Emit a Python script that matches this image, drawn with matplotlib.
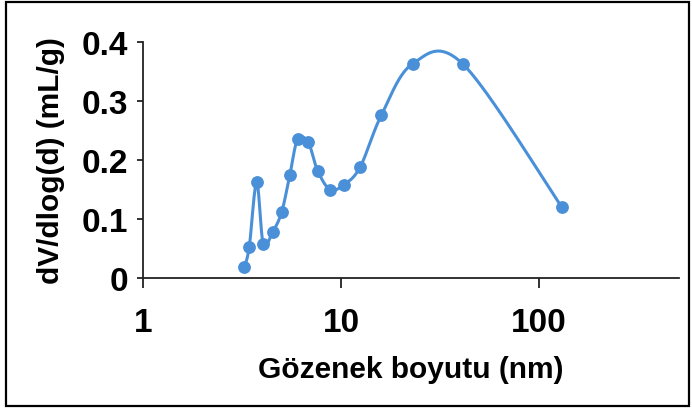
import numpy as np
import matplotlib
matplotlib.use("Agg")
import matplotlib.pyplot as plt
from matplotlib.patches import Rectangle

# Data
pore_size_nm = [3.24, 3.44, 3.75, 4.05, 4.52, 5.02, 5.52, 6.04, 6.83, 7.62,
                8.80, 10.35, 12.5, 16.0, 23.0, 41.2, 130.6]
dv_dlogd = [0.018, 0.052, 0.162, 0.058, 0.078, 0.112, 0.175, 0.235, 0.230, 0.182,
            0.150, 0.158, 0.188, 0.276, 0.363, 0.363, 0.120]
x_ticks = [1, 10, 100]
x_tick_labels = ["1", "10", "100"]
y_ticks = [0, 0.1, 0.2, 0.3, 0.4]
y_tick_labels = ["0", "0.1", "0.2", "0.3", "0.4"]
x_label = "Gözenek boyutu (nm)"
y_label = "dV/dlog(d) (mL/g)"

plt.rcParams['font.family'] = ['Liberation Sans', 'DejaVu Sans']
plt.rcParams['font.weight'] = 'bold'

W, H = 692, 410
fig = plt.figure(figsize=(W / 100, H / 100), dpi=100)
ax = fig.add_axes([143 / W, 1 - 279 / H, (679 - 143) / W, (279 - 43) / H])

ax.set_xscale('log')
ax.set_xlim(1, 510)
ax.set_ylim(0, 0.4)

color = '#4A90D9'

# Excel-like smoothed line (Bezier through points, computed in display space)
fig.canvas.draw()
pts = ax.transData.transform(np.column_stack([pore_size_nm, dv_dlogd]))
n = len(pts)
curve = []
for i in range(n - 1):
    p0 = pts[i - 1] if i > 0 else pts[i]
    p1 = pts[i]
    p2 = pts[i + 1]
    p3 = pts[i + 2] if i + 2 < n else pts[i + 1]
    c1 = p1 + (p2 - p0) / 6.0
    c2 = p2 - (p3 - p1) / 6.0
    t = np.linspace(0, 1, 40)[:, None]
    seg = ((1 - t) ** 3) * p1 + 3 * ((1 - t) ** 2) * t * c1 + 3 * (1 - t) * t ** 2 * c2 + t ** 3 * p2
    curve.append(seg if i == 0 else seg[1:])
curve = np.vstack(curve)
curve_data = ax.transData.inverted().transform(curve)
ax.plot(curve_data[:, 0], curve_data[:, 1], color=color, lw=2.2, solid_capstyle='round', zorder=2)
ax.plot(pore_size_nm, dv_dlogd, 'o', color=color, ms=8.2, zorder=3)

ax.set_xticks(x_ticks)
ax.set_xticklabels(x_tick_labels)
ax.xaxis.set_minor_locator(matplotlib.ticker.NullLocator())
ax.set_yticks(y_ticks)
ax.set_yticklabels(y_tick_labels)

for s in ['top', 'right']:
    ax.spines[s].set_visible(False)
for s in ['left', 'bottom']:
    ax.spines[s].set_linewidth(1.3)
    ax.spines[s].set_color('#222222')

ax.tick_params(axis='x', direction='out', length=7.2, width=1.3, color='#222222',
               labelsize=24, pad=14)
ax.tick_params(axis='y', direction='out', length=4.5, width=1.3, color='#222222',
               labelsize=24, pad=6)
for lab in ax.get_xticklabels() + ax.get_yticklabels():
    lab.set_fontweight('bold')

ax.set_xlabel(x_label, fontsize=21.5, fontweight='bold', labelpad=12)
ax.set_ylabel(y_label, fontsize=21.5, fontweight='bold', labelpad=12)

fig.patches.append(Rectangle((6 / W, 3 / H), (689 - 6) / W, (407 - 3) / H,
                             transform=fig.transFigure, fill=False,
                             edgecolor='black', linewidth=1.6))

fig.savefig('out.png', dpi=100)
